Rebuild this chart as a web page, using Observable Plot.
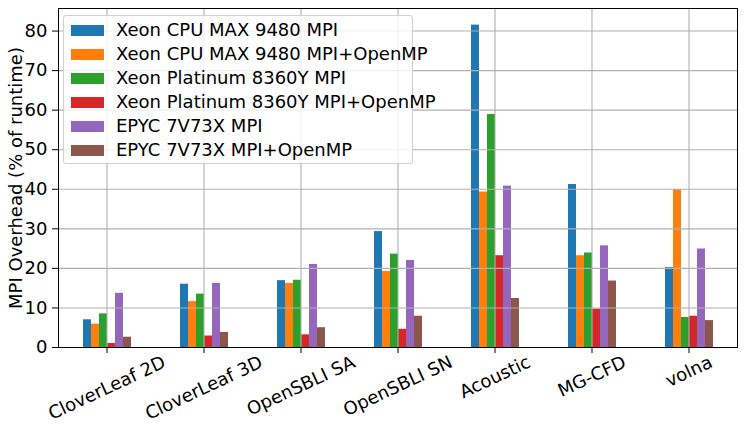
<!DOCTYPE html>
<html>
<head>
<meta charset="utf-8">
<script src="https://cdn.jsdelivr.net/npm/d3@7"></script>
<script src="https://cdn.jsdelivr.net/npm/@observablehq/plot@0.6"></script>
<style>
  html, body { margin: 0; padding: 0; background: white; }
  #wrap { position: relative; width: 747px; height: 425px; font-family: "DejaVu Sans", sans-serif; }
  #legend { position: absolute; left: 63px; top: 15px; width: 350px; height: 149px;
    border: 1px solid #d0d0d0; border-radius: 3px; background: rgba(255,255,255,0.8); box-sizing: border-box; }
  .row { position: absolute; left: 0; height: 24px; width: 100%; }
  .sw { position: absolute; left: 7px; width: 33px; height: 11px; top: 7px; }
  .lab { position: absolute; left: 52px; top: 1px; font-size: 18px; line-height: 22px; color: #000; white-space: nowrap; }
</style>
</head>
<body>
<div id="wrap"><div id="chart"></div><div id="legend"></div></div>
<script>
const categories = ["CloverLeaf 2D", "CloverLeaf 3D", "OpenSBLI SA", "OpenSBLI SN", "Acoustic", "MG-CFD", "volna"];
const seriesNames = [
  "Xeon CPU MAX 9480 MPI",
  "Xeon CPU MAX 9480 MPI+OpenMP",
  "Xeon Platinum 8360Y MPI",
  "Xeon Platinum 8360Y MPI+OpenMP",
  "EPYC 7V73X MPI",
  "EPYC 7V73X MPI+OpenMP"
];
const colors = ["#1f77b4", "#ff7f0e", "#2ca02c", "#d62728", "#9467bd", "#8c564b"];

const xeonMaxMPI       = [7.0, 16.0, 16.9, 29.3, 81.5, 41.2, 20.2];
const xeonMaxHybrid    = [5.9, 11.6, 16.2, 19.2, 39.3, 23.2, 39.9];
const platinumMPI      = [8.5, 13.5, 17.0, 23.6, 58.9, 23.9, 7.6];
const platinumHybrid   = [1.0, 2.9, 3.2, 4.6, 23.2, 9.7, 7.9];
const epycMPI          = [13.7, 16.2, 21.0, 22.0, 40.8, 25.7, 24.9];
const epycHybrid       = [2.6, 3.8, 5.0, 7.9, 12.4, 16.8, 6.8];

const yTicks = [0, 10, 20, 30, 40, 50, 60, 70, 80];
const yLabel = "MPI Overhead (% of runtime)";

const seriesValues = [xeonMaxMPI, xeonMaxHybrid, platinumMPI, platinumHybrid, epycMPI, epycHybrid];
const data = [];
categories.forEach((c, i) => {
  seriesNames.forEach((s, j) => data.push({category: c, series: s, value: seriesValues[j][i]}));
});

const gridColor = "#b0b0b0";
const fontSize = 18;
const labelAngle = 25;

// matplotlib-style tick labels: rotated, centred on the tick, with their box top just under the tick
const ctx = document.createElement("canvas").getContext("2d");
ctx.font = `${fontSize}px "DejaVu Sans"`;
const labelMarks = categories.map(c => {
  const L = ctx.measureText(c).width;
  const a = labelAngle * Math.PI / 180;
  const boxH = L * Math.sin(a) + 7.4;
  return Plot.text([c], {fx: d => d, text: d => d, frameAnchor: "bottom", rotate: -labelAngle,
    textAnchor: "middle", lineAnchor: "middle", dy: 10 + boxH / 2, fontSize});
});

const chart = Plot.plot({
  width: 747,
  height: 425,
  marginLeft: 55,
  marginRight: 7,
  marginTop: 8,
  marginBottom: 78,
  style: {fontFamily: "DejaVu Sans, sans-serif", fontSize: fontSize + "px", background: "white", color: "black"},
  fx: {domain: categories, padding: 0, label: null, axis: null},
  x: {domain: seriesNames, paddingInner: 0, paddingOuter: 3, axis: null},
  y: {domain: [0, 85.7], label: null, axis: null},
  color: {domain: seriesNames, range: colors},
  marks: [
    Plot.barY(data, {fx: "category", x: "series", y: "value", fill: "series"}),
    Plot.gridY(yTicks, {stroke: gridColor, strokeOpacity: 1, strokeWidth: 1.1}),
    Plot.gridFx({stroke: gridColor, strokeOpacity: 1, strokeWidth: 1.1}),
    Plot.axisY({ticks: yTicks, tickSize: 6, tickPadding: 5, fontSize, label: yLabel,
      labelAnchor: "center", labelOffset: 49, labelArrow: "none"}),
    Plot.axisFx({anchor: "bottom", tickSize: 6, tickFormat: () => "", label: null}),
    ...labelMarks,
    Plot.frame({anchor: "top", stroke: "black", strokeWidth: 1}),
    Plot.frame({anchor: "bottom", stroke: "black", strokeWidth: 1}),
    Plot.frame({anchor: "left", facetAnchor: "left", stroke: "black", strokeWidth: 1}),
    Plot.frame({anchor: "right", facetAnchor: "right", stroke: "black", strokeWidth: 1})
  ]
});
document.getElementById("chart").appendChild(chart);

const legend = document.getElementById("legend");
seriesNames.forEach((s, i) => {
  const row = document.createElement("div");
  row.className = "row";
  row.style.top = (2 + i * 24) + "px";
  const sw = document.createElement("div");
  sw.className = "sw";
  sw.style.background = colors[i];
  const lab = document.createElement("div");
  lab.className = "lab";
  lab.textContent = s;
  row.appendChild(sw);
  row.appendChild(lab);
  legend.appendChild(row);
});
</script>
</body>
</html>
